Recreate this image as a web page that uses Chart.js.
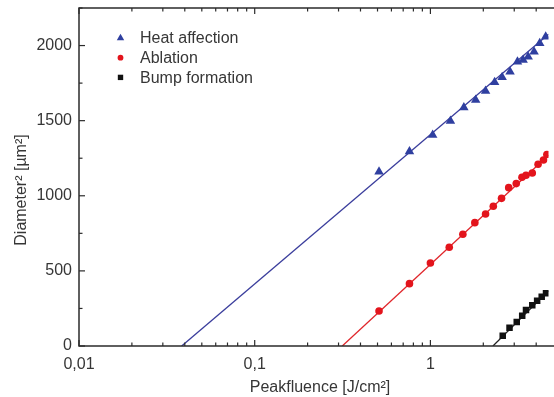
<!DOCTYPE html>
<html>
<head>
<meta charset="utf-8">
<script src="https://cdn.jsdelivr.net/npm/chart.js@4/dist/chart.umd.min.js"></script>
<style>
  html, body { margin: 0; padding: 0; background: #fff; overflow: hidden; }
</style>
</head>
<body>
<canvas id="fluenceChart" width="554" height="397"></canvas>
<script>

// DATA ########################################################################

// Heat affection (blue triangles)
var heatX = [0.51, 0.76, 1.03, 1.3, 1.55, 1.81, 2.06, 2.32, 2.56, 2.84, 3.13, 3.37, 3.6, 3.89, 4.19, 4.53];
var heatY = [1160, 1294, 1405, 1498, 1587, 1638, 1698, 1756, 1789, 1826, 1893, 1904, 1926, 1959, 2015, 2059];

// Ablation (red circles)
var ablX = [0.51, 0.76, 1.0, 1.28, 1.53, 1.79, 2.06, 2.28, 2.54, 2.79, 3.08, 3.32, 3.5, 3.8, 4.1, 4.4, 4.6];
var ablY = [233, 415, 553, 657, 744, 821, 879, 930, 983, 1054, 1081, 1123, 1137, 1152, 1210, 1238, 1275];

// Bump formation (black squares)
var bumpX = [2.58, 2.82, 3.1, 3.33, 3.5, 3.8, 4.05, 4.3, 4.55];
var bumpY = [69, 122, 160, 202, 240, 271, 302, 328, 351];

// fitted lines (threshold at y = 0, end at right edge)
var heatFitX = [0.0384, 4.7];
var heatFitY = [0, 2075];
var ablFitX = [0.315, 4.7];
var ablFitY = [0, 1270];
var bumpFitX = [2.27, 4.7];
var bumpFitY = [0, 367];

var xTicks = [0.01, 0.1, 1];
var xTickLabels = ["0,01", "0,1", "1"];
var yTicks = [0, 500, 1000, 1500, 2000];

var textColor = "#363636";
var axisColor = "#2b2b2b";

function toPoints(xs, ys) {
    return xs.map(function (x, i) { return { x: x, y: ys[i] }; });
}

Chart.defaults.font.family = "'Liberation Sans', Arial, sans-serif";
Chart.defaults.font.size = 16;
Chart.defaults.color = textColor;


// FRAME, TICKS, TITLES, LEGEND ################################################

var framePlugin = {
    id: "frame",
    afterDraw: function (chart) {
        var ctx = chart.ctx;
        var area = chart.chartArea;
        var xs = chart.scales.x;
        var ys = chart.scales.y;

        function seg(x1, y1, x2, y2) {
            ctx.beginPath();
            ctx.moveTo(x1, y1);
            ctx.lineTo(x2, y2);
            ctx.stroke();
        }

        ctx.save();
        ctx.strokeStyle = axisColor;
        ctx.lineWidth = 1.5;
        ctx.beginPath();
        ctx.moveTo(chart.width, area.top);
        ctx.lineTo(area.left, area.top);
        ctx.lineTo(area.left, area.bottom);
        ctx.lineTo(chart.width, area.bottom);
        ctx.stroke();

        // log ticks on bottom and top, pointing inwards
        ctx.lineWidth = 1.2;
        for (var d = -2; d <= 0; d++) {
            for (var m = 1; m <= 9; m++) {
                var v = m * Math.pow(10, d);
                if (v > xs.max) break;
                var px = xs.getPixelForValue(v);
                var len = m === 1 ? 6 : 3.5;
                seg(px, area.bottom, px, area.bottom - len);
                seg(px, area.top, px, area.top + len);
            }
        }
        // y ticks every 250, major every 500
        for (var yv = 0; yv <= ys.max; yv += 250) {
            var py = ys.getPixelForValue(yv);
            seg(area.left, py, area.left + (yv % 500 === 0 ? 6 : 3.5), py);
        }

        // axis titles
        ctx.fillStyle = textColor;
        ctx.font = "16px 'Liberation Sans', Arial, sans-serif";
        ctx.textAlign = "center";
        ctx.textBaseline = "middle";
        ctx.fillText("Peakfluence [J/cm\u00b2]", 320, 388);
        ctx.save();
        ctx.translate(22, 190);
        ctx.rotate(-Math.PI / 2);
        ctx.fillText("Diameter\u00b2 [\u00b5m\u00b2]", 0, 0);
        ctx.restore();

        // legend
        ctx.textAlign = "left";
        var rows = chart.data.datasets.filter(function (ds) { return ds.inLegend; });
        rows.forEach(function (ds, i) {
            var ly = 38 + i * 19.7;
            ctx.fillStyle = ds.backgroundColor;
            ctx.strokeStyle = ds.backgroundColor;
            Chart.helpers.drawPoint(ctx, {
                pointStyle: ds.pointStyle,
                radius: ds.legendRadius,
                rotation: 0,
                borderWidth: 0
            }, 120.5, ly);
            ctx.fillStyle = textColor;
            ctx.fillText(ds.label, 140, ly + 1);
        });
        ctx.restore();
    }
};


// SCATTER CHART ###############################################################

var ctx_fluence = document.getElementById("fluenceChart");

var data = {
    datasets: [
        {
            label: "Heat affection",
            inLegend: true,
            legendRadius: 4.3,
            data: toPoints(heatX, heatY),
            pointStyle: "triangle",
            pointRadius: 5.5,
            backgroundColor: "#2f3fa0",
            borderColor: "#2f3fa0",
            borderWidth: 0,
            showLine: false,
            order: 1
        },
        {
            label: "Ablation",
            inLegend: true,
            legendRadius: 2.9,
            data: toPoints(ablX, ablY),
            pointStyle: "circle",
            pointRadius: 3.8,
            backgroundColor: "#e3141c",
            borderColor: "#e3141c",
            borderWidth: 0,
            showLine: false,
            order: 1
        },
        {
            label: "Bump formation",
            inLegend: true,
            legendRadius: 3.8,
            data: toPoints(bumpX, bumpY),
            pointStyle: "rect",
            pointRadius: 4.6,
            backgroundColor: "#111111",
            borderColor: "#111111",
            borderWidth: 0,
            showLine: false,
            order: 1
        },
        {
            label: "fit heat",
            data: toPoints(heatFitX, heatFitY),
            showLine: true,
            pointRadius: 0,
            borderColor: "#3a3d9c",
            borderWidth: 1.3,
            order: 2
        },
        {
            label: "fit ablation",
            data: toPoints(ablFitX, ablFitY),
            showLine: true,
            pointRadius: 0,
            borderColor: "#e0262b",
            borderWidth: 1.3,
            order: 2
        },
        {
            label: "fit bump",
            data: toPoints(bumpFitX, bumpFitY),
            showLine: true,
            pointRadius: 0,
            borderColor: "#222222",
            borderWidth: 1.3,
            order: 2
        }
    ]
};

var myFluenceChart = new Chart(ctx_fluence, {
    type: "scatter",
    data: data,
    plugins: [framePlugin],
    options: {
        responsive: false,
        animation: false,
        layout: { padding: { top: 8, right: 0, left: 0, bottom: 0 } },
        plugins: {
            legend: { display: false },
            tooltip: { enabled: false }
        },
        scales: {
            x: {
                type: "logarithmic",
                min: 0.01,
                max: 4.7,
                grid: { display: false, drawTicks: false },
                border: { display: false },
                afterFit: function (scale) {
                    scale.height = 51;
                    scale.paddingRight = 0;
                },
                afterBuildTicks: function (scale) {
                    scale.ticks = xTicks.map(function (v) { return { value: v }; });
                },
                ticks: {
                    autoSkip: false,
                    maxRotation: 0,
                    padding: 9,
                    callback: function (value, index) {
                        return xTickLabels[index];
                    }
                }
            },
            y: {
                min: 0,
                max: 2250,
                grid: { display: false, drawTicks: false },
                border: { display: false },
                afterFit: function (scale) {
                    scale.width = 79;
                    scale.paddingTop = 0;
                    scale.paddingBottom = 0;
                },
                afterBuildTicks: function (scale) {
                    scale.ticks = yTicks.map(function (v) { return { value: v }; });
                },
                ticks: {
                    autoSkip: false,
                    padding: 7,
                    callback: function (value) {
                        return String(value);
                    }
                }
            }
        }
    }
});
</script>
</body>
</html>
